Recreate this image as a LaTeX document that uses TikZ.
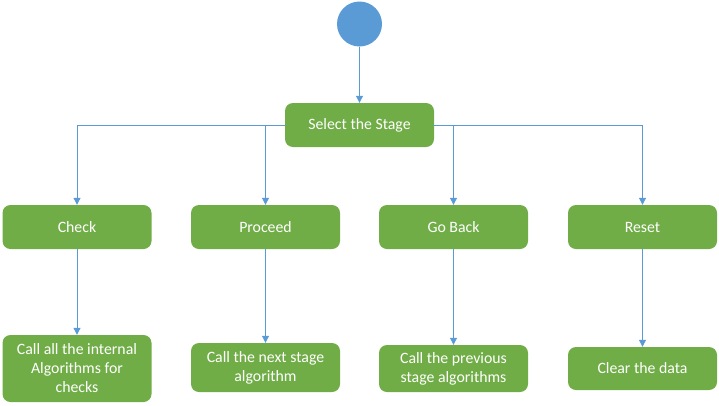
\documentclass[tikz,border=0pt]{standalone}
\usepackage{fontspec}
\setmainfont{Carlito}
\usetikzlibrary{arrows.meta}
\definecolor{boxgreen}{HTML}{70AD47}
\definecolor{lineblue}{HTML}{5B9BD5}
\begin{document}
\begin{tikzpicture}[x=1pt,y=-1pt,
  stagebox/.style={draw=none,fill=boxgreen,rounded corners=8pt,text=white,align=center,
    minimum width=149pt,inner sep=0pt,font=\fontsize{15.8}{19}\selectfont},
  link/.style={draw=lineblue,line width=1pt,-{Triangle[width=7pt,length=7pt]}}]
\useasboundingbox (0,0) rectangle (719,405);
\node[circle,fill=lineblue,minimum size=45pt,inner sep=0pt] (start) at (359.5,24) {};
\node[stagebox,minimum height=44pt] (sel) at (359.5,125) {Select the Stage};
\node[stagebox,minimum height=44pt] (check) at (77,227) {Check};
\node[stagebox,minimum height=44pt] (proceed) at (265.5,227) {Proceed};
\node[stagebox,minimum height=44pt] (goback) at (453.5,227) {Go Back};
\node[stagebox,minimum height=44pt] (reset) at (642.5,227) {Reset};
\node[stagebox,minimum height=67pt] (c1) at (77,368.5) {Call all the internal\\Algorithms for\\checks};
\node[stagebox,minimum height=49pt] (c2) at (265.5,367.5) {Call the next stage\\algorithm};
\node[stagebox,minimum height=47pt] (c3) at (453.5,368.5) {Call the previous\\stage algorithms};
\node[stagebox,minimum height=43pt] (c4) at (642.5,368.5) {Clear the data};
\draw[link] (start) -- (sel);
\draw[link] (sel.west) -| (check.north);
\draw[link] (sel.west) -| (proceed.north);
\draw[link] (sel.east) -| (goback.north);
\draw[link] (sel.east) -| (reset.north);
\draw[link] (check) -- (c1);
\draw[link] (proceed) -- (c2);
\draw[link] (goback) -- (c3);
\draw[link] (reset) -- (c4);
\end{tikzpicture}
\end{document}
